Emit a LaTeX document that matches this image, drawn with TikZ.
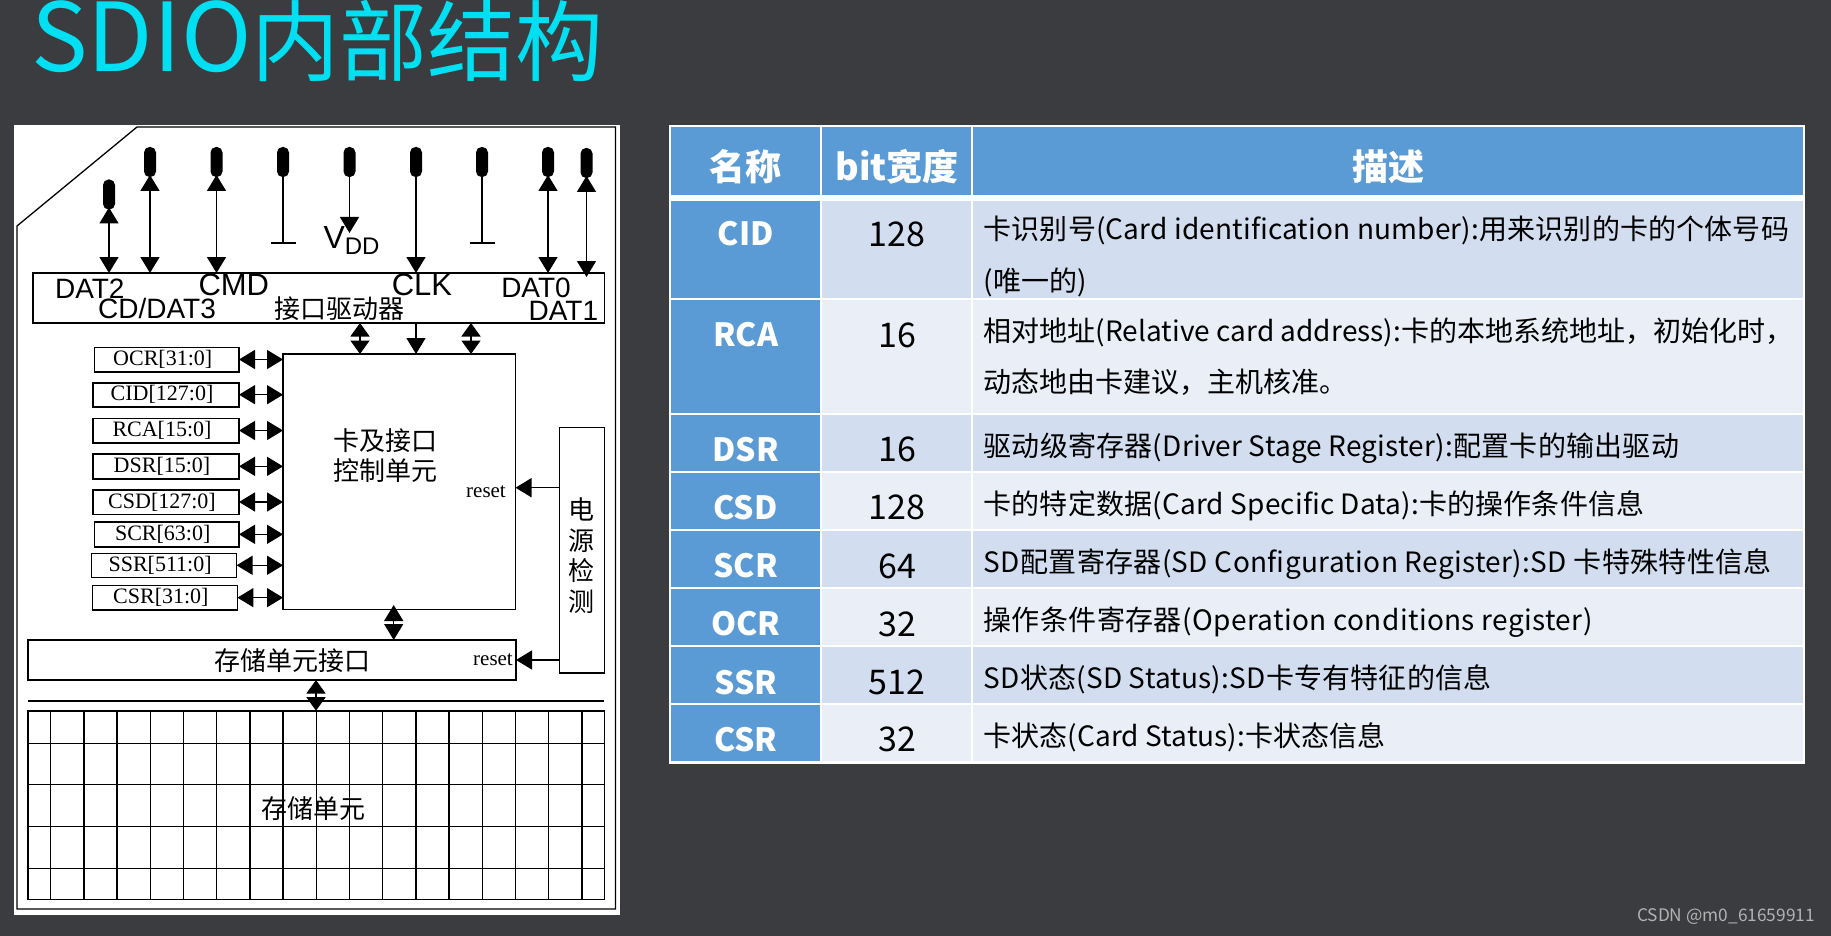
\documentclass[tikz,border=0pt]{standalone}
\usepackage{fontspec}
\usepackage{xcolor}
\setmainfont{Noto Sans CJK SC}
\newfontfamily\regfont{Liberation Serif}
\newfontfamily\pinfont{Liberation Sans}
\usetikzlibrary{arrows.meta,positioning}
\definecolor{slate}{HTML}{3B3C40}
\definecolor{cyanT}{HTML}{00E0F2}
\definecolor{headB}{HTML}{5B9BD5}
\definecolor{rowD}{HTML}{D2DEEF}
\definecolor{rowL}{HTML}{EAEFF7}
\newcommand\fsz[1]{\fontsize{#1}{#1}\selectfont}
\newcommand\spc[1]{\addfontfeatures{LetterSpace=#1}}
\tikzset{
  tipT/.tip={Triangle[length=16pt,width=19pt]},
  tipS/.tip={Triangle[length=13.5pt,width=19pt]},
  box/.style={draw,line width=1.6pt,inner sep=0pt,outer sep=0pt},
  reg/.style={box,font=\regfont\fsz{22}},
  pincap/.style={fill=black,rounded corners=5.5pt,minimum width=12pt,inner sep=0pt,outer sep=0pt},
  one/.style={line width=1.5pt,-tipT},
  two/.style={line width=1.5pt,tipT-tipT},
  tws/.style={line width=1.5pt,tipS-tipS},
  pinlbl/.style={font=\pinfont\fsz{28},inner sep=0pt},
  zh/.style={font=\fsz{26},inner sep=0pt,align=center},
  rst/.style={font=\regfont\fsz{21},inner sep=0pt},
  cell/.style={inner sep=0pt,outer sep=0pt},
  nm/.style={inner sep=0pt,text=white,font=\bfseries\fsz{32}},
  hd/.style={inner sep=0pt,text=white,font=\bfseries\fsz{36}},
  num/.style={inner sep=0pt,font=\fsz{34}},
  dsc/.style={inner sep=0pt,anchor=base west,font=\fsz{28}}
}
\begin{document}
\begin{tikzpicture}[x=1pt,y=-1pt]
\useasboundingbox[fill=slate] (0,0) rectangle (1831,936);
\node[inner sep=0pt,anchor=base west,text=cyanT,font=\fsz{95}] (title) at (31,72) {SDIO{\fsz{88}\raisebox{-3pt}{内部结构}}};
% left panel
\node[fill=white,inner sep=0pt,minimum width=606pt,minimum height=790pt] (panel) at (317,520) {};
\draw[line width=1.3pt] (137,127) -- (615.5,127) -- (615.5,909) -- (17,909) -- (17,226) -- cycle;
\node[box,minimum width=571.6pt,minimum height=50pt] (drv) at (318.8,298) {};
\node[box,minimum width=232.5pt,minimum height=255.3pt] (ctrl) at (399.25,481.65) {};
\node[box,minimum width=45pt,minimum height=245.4pt] (pwr) at (582.15,550) {};
\node[box,minimum width=488pt,minimum height=40pt] (itf) at (272,660) {};
\node[box,minimum width=576.3pt,minimum height=188.6pt] (mem) at (316.15,805) {};
% memory grid
\foreach \gx in {0,...,16}
  \draw[line width=1.4pt] ({50.6+33.2*\gx},710.7) -- ({50.6+33.2*\gx},899.3);
\foreach \gy in {743.3,784.3,826.7,868.7}
  \draw[line width=1.4pt] (28,\gy) -- (604.3,\gy);
\coordinate (ra) at (28,701);
\coordinate (rb) at (604,701);
\draw[line width=1.5pt] (ra) -- (rb);
% pins
\foreach \pn/\px/\py in {p1/109/194.5,p2/150/162,p3/216.5/162,p4/283/162,p5/349.5/162,p6/416/162,p7/482/162,p8/548/162,p9/586.5/163}
  \node[pincap,minimum height=30pt] (\pn) at (\px,\py) {};
\coordinate (g1) at (283,243);
\coordinate (g2) at (482,243);
\coordinate (vd) at (349.5,233);
\coordinate (d1) at (586.5,277);
\foreach \pn in {p1,p2,p3,p8}
  \draw[two,shorten <=-2pt] (\pn.south) -- (\pn.south |- drv.north);
\draw[two,shorten <=-2pt] (p9.south) -- (d1);
\draw[one] (p6.south) -- (p6.south |- drv.north);
\draw[one] (p5.south) -- (vd);
\draw[line width=1.5pt] (p4.south) -- (g1);
\draw[line width=1.5pt] (p7.south) -- (g2);
\draw[line width=2pt] ([xshift=-12.5pt]g1) -- ([xshift=12.5pt]g1);
\draw[line width=2pt] ([xshift=-12.5pt]g2) -- ([xshift=12.5pt]g2);
\node[pinlbl] (ldat2) at (89.8,289) {DAT2};
\node[pinlbl] (lcd) at (157,308) {CD/DAT3};
\node[pinlbl,font=\pinfont\fsz{31}] (lcmd) at (233.8,285) {CMD};
\node[pinlbl,font=\pinfont\fsz{31}] (lclk) at (421.9,285) {CLK};
\node[pinlbl] (ldat0) at (536,288) {DAT0};
\node[pinlbl] (ldat1) at (563.4,311) {DAT1};
\node[inner sep=0pt,anchor=base,font=\pinfont\fsz{32}] (lvdd) at (351.5,248.3) {V\raisebox{-6pt}{\fsz{24}DD}};
\node[zh] (tdrv) at (339,309) {接口驱动器};
% driver to control
\foreach \bx/\bst in {360/tws,416/one,471/tws}
  \draw[\bst] (\bx,0 |- drv.south) -- (\bx,0 |- ctrl.north);
% registers
\foreach \rn/\rt/\xa/\xb/\ya/\yb in {
  ocr/OCR[31:0]/94.4/239/347.3/371.7,
  cid/CID[127:0]/93/239/382.7/406.7,
  rca/RCA[15:0]/93/239/418.3/442.7,
  dsr/DSR[15:0]/93/239/454/478.7,
  csd/CSD[127:0]/93/239/489.7/514.3,
  scr/SCR[63:0]/94.4/239/522/546.7,
  ssr/SSR[511:0]/91.6/236.6/553.3/577.3,
  csr/CSR[31:0]/92.4/237.4/585.3/610}{
  \node[reg,minimum width={(\xb-\xa)*1pt},minimum height={(\yb-\ya)*1pt}] (\rn) at ({(\xa+\xb)/2},{(\ya+\yb)/2}) {\hspace*{-8pt}\rt};
  \draw[two] (\rn.east) -- (\rn.east -| ctrl.west);
}
\node[zh,font=\fontsize{26}{30}\selectfont] (tctrl) at (385,455.7) {卡及接口\\控制单元};
\node[zh,font=\fontsize{26}{30.6}\selectfont] (tpwr) at (581.8,555.5) {电\\源\\检\\测};
\node[zh] (titf) at (292,660.7) {存储单元接口};
\node[zh] (tmem) at (313.4,809) {存储单元};
\node[rst] (rs1) at (486,491.7) {reset};
\node[rst] (rs2) at (493,660) {reset};
\coordinate (pr1) at (559.7,487.7);
\draw[one] (pr1) -- (pr1 -| ctrl.east);
\draw[one] (pwr.west |- itf.east) -- (itf.east);
\coordinate (ci) at (393.7,605);
\draw[two] (ci) -- (ci |- itf.north);
\draw[tws] (316,0 |- itf.south) -- (316,0 |- mem.north);
% table
\node[fill=white,inner sep=0pt,minimum width=1136.4pt,minimum height=638pt] (tbl) at (1237.2,444.5) {};
\node[cell,fill=headB,minimum width=149pt,minimum height=68.3pt] (h1) at (745.5,160.85) {};
\node[cell,fill=headB,minimum width=149pt,minimum height=68.3pt] (h2) at (896.5,160.85) {};
\node[cell,fill=headB,minimum width=830pt,minimum height=68.3pt] (h3) at (1388,160.85) {};
\node[hd] (t1) at (745.7,167) {名称};
\node[hd] (t2) at (897,167) {bit宽度};
\node[hd] (t3) at (1388,167) {描述};
\foreach \rn/\rt/\rv/\ya/\yb/\yt/\rc in {
  CID/CID/128/200.7/297.7/234/rowD,
  RCA/RCA/16/300/412.7/335/rowL,
  DSR/DSR/16/415/471/449.8/rowD,
  CSD/CSD/128/473/529/507.2/rowL,
  SCR/SCR/64/531/587/566/rowD,
  OCR/OCR/32/589/645/624/rowL,
  SSR/SSR/512/647/703/682.2/rowD,
  CSR/CSR/32/705/761/739.8/rowL}{
  \node[cell,fill=headB,minimum width=149pt,minimum height={(\yb-\ya)*1pt}] (a\rn) at (745.5,{(\ya+\yb)/2}) {};
  \node[cell,fill=\rc,minimum width=149pt,minimum height={(\yb-\ya)*1pt}] (b\rn) at (896.5,{(\ya+\yb)/2}) {};
  \node[cell,fill=\rc,minimum width=830pt,minimum height={(\yb-\ya)*1pt}] (c\rn) at (1388,{(\ya+\yb)/2}) {};
  \node[nm] (n\rn) at (745.7,\yt) {\rt};
  \node[num] (v\rn) at (897,\yt) {\rv};
}
\node[dsc] (d1a) at (983.4,240) {\spc{0.6}卡识别号(Card identification number):用来识别的卡的个体号码};
\node[dsc] (d1b) at (983.4,291) {(唯一的)};
\node[dsc] (d2a) at (983.4,341) {\spc{0.2}相对地址(Relative card address):卡的本地系统地址，初始化时，};
\node[dsc] (d2b) at (983.4,392) {动态地由卡建议，主机核准。};
\node[dsc] (d3) at (983.4,456) {\spc{0.8}驱动级寄存器(Driver Stage Register):配置卡的输出驱动};
\node[dsc] (d4) at (983.4,514) {\spc{0.6}卡的特定数据(Card Specific Data):卡的操作条件信息};
\node[dsc] (d5) at (983.4,572) {\spc{1.3}SD配置寄存器(SD Configuration Register):SD 卡特殊特性信息};
\node[dsc] (d6) at (983.4,630) {\spc{1.4}操作条件寄存器(Operation conditions register)};
\node[dsc] (d7) at (983.4,688) {\spc{0.8}SD状态(SD Status):SD卡专有特征的信息};
\node[dsc] (d8) at (983.4,746) {\spc{0.3}卡状态(Card Status):卡状态信息};
\node[inner sep=0pt,text=black!30,font=\fsz{17.3}] (wm) at (1726,917) {CSDN @m0\_61659911};
\end{tikzpicture}
\end{document}
